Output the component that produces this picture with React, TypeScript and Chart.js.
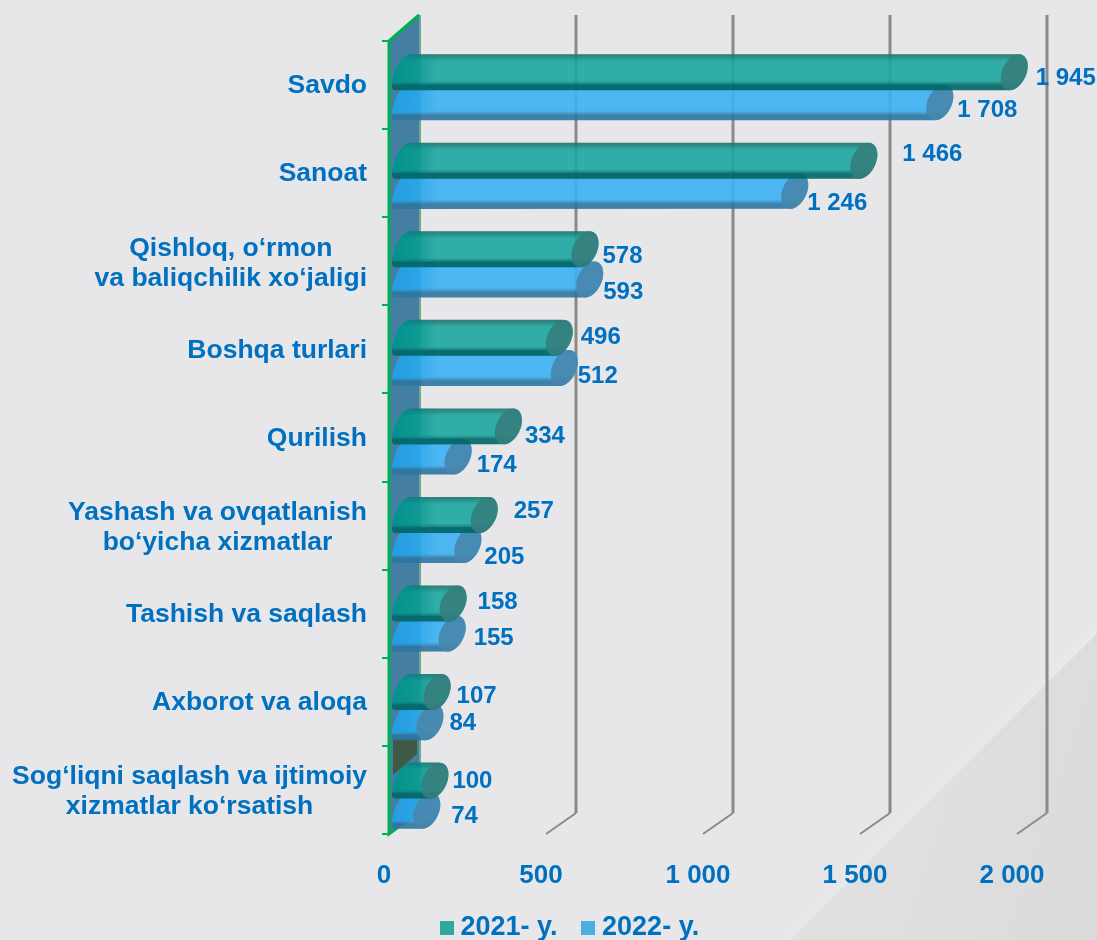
import React, { useEffect, useRef } from "react";
import { Chart, registerables } from "chart.js";

Chart.register(...registerables);

const categories: string[][] = [
  ["Savdo"],
  ["Sanoat"],
  ["Qishloq, o‘rmon", "va baliqchilik xo‘jaligi"],
  ["Boshqa turlari"],
  ["Qurilish"],
  ["Yashash va ovqatlanish", "bo‘yicha xizmatlar"],
  ["Tashish va saqlash"],
  ["Axborot va aloqa"],
  ["Sog‘liqni saqlash va ijtimoiy", "xizmatlar ko‘rsatish"],
];
const seriesNames = ["2021- y.", "2022- y."];
const values2021 = [1945, 1466, 578, 496, 334, 257, 158, 107, 100];
const values2022 = [1708, 1246, 593, 512, 174, 205, 155, 84, 74];
const xTicks = [0, 500, 1000, 1500, 2000];

// label nudges relative to the bar end, as placed by hand in the reference
const labelDx2021 = [36, 53, 32, 36, 31, 44, 39, 34, 32];
const labelDx2022 = [32, 27, 28, 28, 33, 31, 36, 34, 39];
const labelDy2021 = [6, -6, 7, 0, 10, -4, -1, 4, 1];
const labelDy2022 = [8, 12, 13, 8, 9, 12, 5, 1, 6];

const BLUE_TEXT = "#0070C0";
const FONT = '"Liberation Sans", Arial, sans-serif';
const fmt = (v: number) => String(v).replace(/\B(?=(\d{3})+$)/g, " ");

const DEPTH_X = 30;
const DEPTH_Y = 21;

const palette = [
  { base: "#1BA79F", edgeTop: "#196E6A", edgeBottom: "#006665", left: "#008E8A", cap: "#357F7E", legend: "#2FA8A0" },
  { base: "#3AB1F3", edgeTop: "#2F8FC8", edgeBottom: "#2D75A1", left: "#1F9CE0", cap: "#4787AE", legend: "#4CAEE3" },
];

function swatch(color: string) {
  const c = document.createElement("canvas");
  c.width = 14;
  c.height = 14;
  const g = c.getContext("2d")!;
  g.fillStyle = color;
  g.fillRect(0, 0, 14, 14);
  return c;
}

function drawCylinder(ctx: CanvasRenderingContext2D, chart: any, bar: any, ds: number) {
  const c = palette[ds];
  const area = chart.chartArea;
  const h = 36;
  const cy = bar.y + 2 + (bar.y - area.top) * 0.005;
  const t = cy - h / 2;
  const b = cy + h / 2;
  const xv = bar.x;
  const x0 = area.left + 3;
  const phi = Math.atan2(-36, 17);
  const ry = 12;
  const rx = 19;
  const ex = xv + 14.5;
  const A = rx * Math.sin(phi);
  const B = ry * Math.cos(phi);
  const tb = Math.atan2(B, A);
  const tt = tb + Math.PI;

  ctx.save();
  ctx.globalAlpha = 0.9;
  ctx.beginPath();
  ctx.moveTo(x0 + 3, b);
  ctx.quadraticCurveTo(x0 - 2, b, x0 + 1, b - 12);
  ctx.quadraticCurveTo(x0 + 6, t + 1, x0 + 20, t);
  const topX = ex + rx * Math.cos(tt) * Math.cos(phi) - ry * Math.sin(tt) * Math.sin(phi);
  ctx.lineTo(topX, t);
  ctx.ellipse(ex, cy, rx, ry, phi, tt, tb + 2 * Math.PI, false);
  ctx.closePath();

  const g = ctx.createLinearGradient(0, t, 0, b);
  g.addColorStop(0, c.edgeTop);
  g.addColorStop(0.2, c.base);
  g.addColorStop(0.74, c.base);
  g.addColorStop(0.86, c.edgeBottom);
  g.addColorStop(1, c.edgeBottom);
  ctx.fillStyle = g;
  ctx.fill();

  ctx.save();
  ctx.clip();
  const lg = ctx.createLinearGradient(x0, 0, x0 + 45, 0);
  lg.addColorStop(0, c.left);
  lg.addColorStop(0.6, c.left + "88");
  lg.addColorStop(1, c.left + "00");
  ctx.fillStyle = lg;
  ctx.fillRect(x0 - 4, t, 52, h * 0.8);
  ctx.restore();

  ctx.beginPath();
  ctx.ellipse(ex, cy, rx, ry, phi, 0, 2 * Math.PI);
  ctx.fillStyle = c.cap;
  ctx.globalAlpha = 0.92;
  ctx.fill();
  ctx.restore();
}

const cylinderPlugin = {
  id: "cylinder3d",
  afterLayout(chart: any) {
    const legend = chart.legend;
    legend.left = 416;
    legend.right = chart.width;
    legend.top = 884;
    // keep the tick labels out of the scale's own clip box
    const x = chart.scales.x;
    x.left = 0;
    x.right = chart.width;
    x.bottom = chart.height;
  },
  beforeDraw(chart: any) {
    const { ctx, width, height } = chart;
    ctx.save();
    ctx.fillStyle = "#E7E7E9";
    ctx.fillRect(0, 0, width, height);
    const sum = 1727;
    const tri = ctx.createLinearGradient(sum / 2, sum / 2, width, height);
    tri.addColorStop(0, "#E0E0E1");
    tri.addColorStop(0.5, "#DDDDDE");
    tri.addColorStop(1, "#DBDBDC");
    ctx.beginPath();
    ctx.moveTo(width, sum - width);
    ctx.lineTo(width, height);
    ctx.lineTo(sum - height, height);
    ctx.closePath();
    ctx.fillStyle = tri;
    ctx.fill();
    ctx.beginPath();
    ctx.moveTo(width, sum - width);
    ctx.lineTo(sum - height, height);
    ctx.strokeStyle = "#E9E9EB";
    ctx.lineWidth = 5;
    ctx.stroke();
    ctx.restore();
  },
  beforeDatasetsDraw(chart: any) {
    const { ctx, chartArea: a, scales } = chart;
    const x = scales.x;
    const y = scales.y;
    const band = (a.bottom - a.top) / categories.length;
    ctx.save();

    // left wall
    ctx.beginPath();
    ctx.moveTo(a.left, a.top);
    ctx.lineTo(a.left + DEPTH_X, a.top - DEPTH_Y - 5);
    ctx.lineTo(a.left + DEPTH_X, a.bottom - DEPTH_Y);
    ctx.lineTo(a.left, a.bottom);
    ctx.closePath();
    ctx.fillStyle = "#447FA3";
    ctx.fill();

    // dark wall patch above the last category
    const edge = y.getPixelForValue(8) - band / 2;
    ctx.beginPath();
    ctx.moveTo(a.left + 4, edge - 7);
    ctx.lineTo(a.left + 28, edge - 7);
    ctx.lineTo(a.left + 28, edge + 8);
    ctx.lineTo(a.left + 4, edge + 29);
    ctx.closePath();
    ctx.fillStyle = "#3F5A44";
    ctx.fill();

    // back grid with slanted floor strokes
    ctx.strokeStyle = "#8A8A8A";
    xTicks.forEach((v) => {
      if (v === 0) return;
      const p = x.getPixelForValue(v);
      ctx.lineWidth = 3;
      ctx.beginPath();
      ctx.moveTo(p + DEPTH_X, a.top - DEPTH_Y - 5);
      ctx.lineTo(p + DEPTH_X, a.bottom - DEPTH_Y);
      ctx.stroke();
      ctx.lineWidth = 2;
      ctx.beginPath();
      ctx.moveTo(p + DEPTH_X, a.bottom - DEPTH_Y);
      ctx.lineTo(p, a.bottom);
      ctx.stroke();
    });

    // back edge of wall
    ctx.strokeStyle = "#6FA88A";
    ctx.lineWidth = 2;
    ctx.beginPath();
    ctx.moveTo(a.left + DEPTH_X + 1, a.top - DEPTH_Y - 5);
    ctx.lineTo(a.left + DEPTH_X + 1, a.bottom - DEPTH_Y);
    ctx.stroke();

    // green axis line
    ctx.strokeStyle = "#00B050";
    ctx.lineWidth = 3;
    ctx.beginPath();
    ctx.moveTo(a.left + DEPTH_X, a.top - DEPTH_Y - 5);
    ctx.lineTo(a.left, a.top);
    ctx.lineTo(a.left, a.bottom);
    ctx.lineTo(a.left + 24, a.bottom - 18);
    ctx.stroke();
    ctx.lineWidth = 2;
    for (let i = 0; i <= categories.length; i++) {
      const py = Math.round(a.top + band * i);
      ctx.beginPath();
      ctx.moveTo(a.left - 7, py);
      ctx.lineTo(a.left, py);
      ctx.stroke();
    }
    ctx.restore();
  },
  beforeDatasetDraw(chart: any, args: any) {
    const { ctx } = chart;
    args.meta.data.forEach((bar: any) => drawCylinder(ctx, chart, bar, args.index));
    return false;
  },
  afterDatasetsDraw(chart: any) {
    const { ctx, chartArea: a, scales } = chart;
    ctx.save();
    ctx.fillStyle = BLUE_TEXT;
    ctx.textBaseline = "middle";
    ctx.textAlign = "left";
    ctx.font = `bold 24px ${FONT}`;
    [0, 1].forEach((d) => {
      const dx = d === 0 ? labelDx2021 : labelDx2022;
      const dy = d === 0 ? labelDy2021 : labelDy2022;
      const vals = d === 0 ? values2021 : values2022;
      chart.getDatasetMeta(d).data.forEach((bar: any, i: number) => {
        const cy = bar.y + 2 + (bar.y - a.top) * 0.005;
        ctx.fillText(fmt(vals[i]), bar.x + dx[i], cy + dy[i]);
      });
    });

    ctx.font = `bold 26.5px ${FONT}`;
    ctx.textAlign = "center";
    const rightEdge = a.left - 22;
    categories.forEach((lines, i) => {
      const mid = scales.y.getPixelForValue(i) + (lines.length > 1 ? 2 : 1);
      const w = Math.max(...lines.map((l) => ctx.measureText(l).width));
      lines.forEach((l, k) => {
        ctx.fillText(l, rightEdge - w / 2, mid + (k - (lines.length - 1) / 2) * 30);
      });
    });
    ctx.restore();
  },
};

export default function App() {
  const ref = useRef<HTMLCanvasElement | null>(null);
  useEffect(() => {
    const chart = new Chart(ref.current!, {
      type: "bar",
      data: {
        labels: categories.map((l) => l.join(" ")),
        datasets: [
          { label: seriesNames[0], data: values2021, backgroundColor: palette[0].legend, barThickness: 30 },
          { label: seriesNames[1], data: values2022, backgroundColor: palette[1].legend, barThickness: 30 },
        ],
      },
      options: {
        indexAxis: "y",
        responsive: false,
        animation: false,
        layout: { padding: { top: 41, right: 80, left: 0, bottom: 0 } },
        scales: {
          x: {
            min: 0,
            max: 2000,
            afterBuildTicks: (s: any) => {
              s.ticks = xTicks.map((value) => ({ value }));
            },
            afterFit: (s: any) => {
              s.height = Math.max(1, 106 - s.chart.legend.height);
            },
            grid: { display: false },
            border: { display: false },
            ticks: {
              autoSkip: false,
              maxRotation: 0,
              minRotation: 0,
              labelOffset: -5,
              padding: 18,
              color: BLUE_TEXT,
              font: { family: FONT, size: 26, weight: "bold" },
              callback: (v: any) => fmt(Number(v)),
            },
          },
          y: {
            afterFit: (s: any) => {
              s.width = 389;
            },
            grid: { display: false },
            border: { display: false },
            ticks: { display: false },
          },
        },
        plugins: {
          tooltip: { enabled: false },
          legend: {
            position: "bottom",
            align: "start",
            labels: {
              color: BLUE_TEXT,
              font: { family: FONT, size: 27, weight: "bold" },
              padding: 30,
              usePointStyle: true,
              pointStyleWidth: 1,
              generateLabels: (c: any) =>
                c.data.datasets.map((d: any, i: number) => ({
                  text: d.label,
                  datasetIndex: i,
                  fontColor: BLUE_TEXT,
                  fillStyle: d.backgroundColor,
                  strokeStyle: d.backgroundColor,
                  lineWidth: 0,
                  hidden: false,
                  pointStyle: swatch(palette[i].legend),
                })),
            },
          },
        },
      },
      plugins: [cylinderPlugin],
    } as any);
    return () => chart.destroy();
  }, []);
  return (
    <div style={{ position: "absolute", left: 0, top: 0, width: 1097, height: 940 }}>
      <canvas ref={ref} width={1097} height={940} style={{ display: "block" }} />
    </div>
  );
}
